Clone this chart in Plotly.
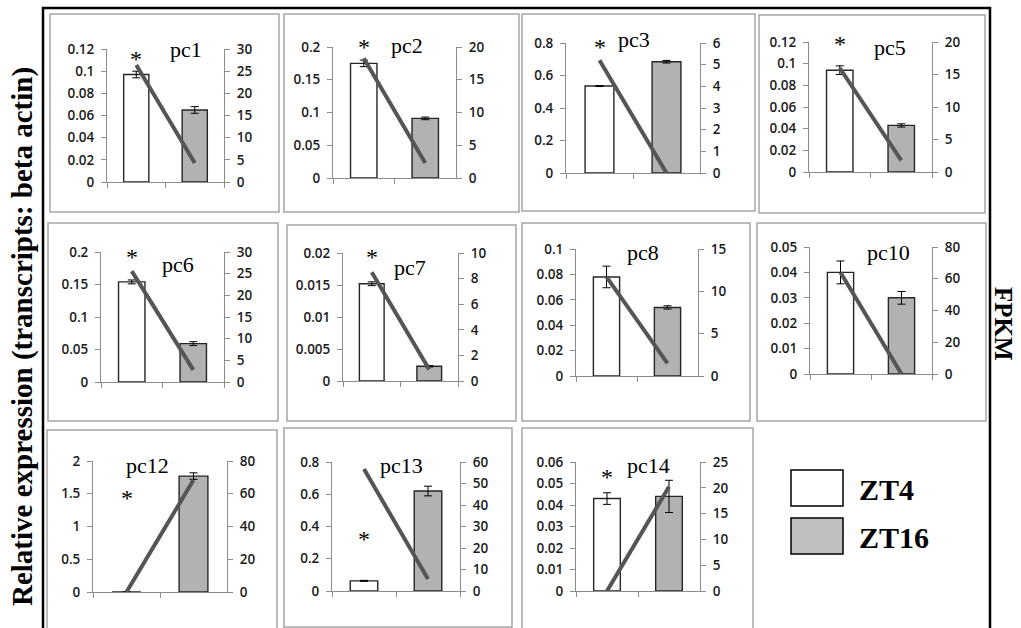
import plotly.graph_objects as go

# ---------------- data ----------------
genes = ['pc1', 'pc2', 'pc3', 'pc5', 'pc6', 'pc7', 'pc8', 'pc10', 'pc12', 'pc13', 'pc14']
categories = ['ZT4', 'ZT16']
zt4_expr = [0.097, 0.175, 0.535, 0.094, 0.154, 0.0152, 0.078, 0.040, 0.0, 0.063, 0.043]
zt4_err = [0.003, 0.005, 0.003, 0.004, 0.003, 0.0003, 0.0085, 0.0045, 0.0, 0.003, 0.0027]
zt16_expr = [0.065, 0.091, 0.685, 0.043, 0.059, 0.0023, 0.054, 0.030, 1.77, 0.62, 0.044]
zt16_err = [0.003, 0.002, 0.008, 0.0015, 0.003, 0.0001, 0.0013, 0.0025, 0.05, 0.03, 0.0075]
fpkm_zt4 = [26.4, 18.3, 5.2, 16.0, 25.6, 8.5, 11.7, 64, 0, 56.7, 0]
fpkm_zt16 = [4.3, 2.3, 0, 1.8, 2.8, 0.9, 1.5, 0, 68.4, 5.6, 20.2]
left_max = [0.12, 0.2, 0.8, 0.12, 0.2, 0.02, 0.1, 0.05, 2, 0.8, 0.06]
left_step = [0.02, 0.05, 0.2, 0.02, 0.05, 0.005, 0.02, 0.01, 0.5, 0.2, 0.01]
right_max = [30, 20, 6, 20, 30, 10, 15, 80, 80, 60, 25]
right_step = [5, 5, 1, 5, 5, 2, 5, 20, 20, 10, 5]
# asterisk (significance) marks, in left-axis units, None = no mark
star_y = [0.1146, 0.206, 0.8, 0.122, 0.198, 0.02, None, None, 1.5, 0.35, 0.0549]

# ---------------- layout geometry (pixels) ----------------
W, H = 1021, 628
plot_px = [
    (107, 224, 49, 182), (333, 456, 47, 178), (566, 700, 43, 173), (809, 932, 42, 172),
    (101, 224, 252, 382), (343, 458, 253, 381), (576, 698, 249, 376), (810, 932, 247, 374),
    (93, 227, 461, 592), (332, 460, 462, 591), (576, 700, 462, 591),
]
box_px = [
    (50, 279, 14, 212), (284, 519, 14, 212), (522, 755, 14, 211), (759, 985, 15, 213),
    (48, 278, 223, 421), (287, 516, 225, 421), (522, 750, 223, 421), (757, 986, 223, 421),
    (47, 277, 430, 640), (284, 512, 428, 627), (522, 753, 428, 640),
]
title_px = [
    (186, 50), (407, 45), (634, 40), (890, 47),
    (178, 264), (410, 267), (643, 252), (888, 252),
    (147, 466), (401, 466), (648, 466),
]


def fx(p):
    return p / W


def fy(p):
    return 1 - p / H


AXC = '#8c8c8c'
GRAY = '#b2b2b2'
TICKFONT = dict(family='Open Sans', size=13.5, color='#1a1a1a', weight=600)
SERIF = 'Liberation Serif'

fig = go.Figure()
layout = {}
annotations = []
shapes = []

for i, g in enumerate(genes):
    n = i + 1
    xa = 'x' if n == 1 else f'x{n}'
    xkey = 'xaxis' if n == 1 else f'xaxis{n}'
    li, ri = 2 * i + 1, 2 * i + 2
    yl = 'y' if li == 1 else f'y{li}'
    ylkey = 'yaxis' if li == 1 else f'yaxis{li}'
    yr = f'y{ri}'
    yrkey = f'yaxis{ri}'
    x0, x1, t, b = plot_px[i]

    fig.add_trace(go.Bar(
        x=categories, y=[zt4_expr[i], zt16_expr[i]], xaxis=xa, yaxis=yl,
        marker=dict(color=['white', GRAY], line=dict(color='#262626', width=1.4)),
        error_y=dict(type='data', array=[zt4_err[i], zt16_err[i]], color='black',
                     thickness=1, width=4),
        showlegend=False, hoverinfo='skip'))
    fig.add_trace(go.Scatter(
        x=categories, y=[fpkm_zt4[i], fpkm_zt16[i]], xaxis=xa, yaxis=yr,
        mode='lines', line=dict(color='#555555', width=4),
        showlegend=False, hoverinfo='skip', cliponaxis=False))

    layout[xkey] = dict(
        domain=[fx(x0), fx(x1)], anchor=yl, type='category', range=[-0.5, 1.5],
        showticklabels=False, ticks='outside', tickson='boundaries', ticklen=5,
        tickcolor=AXC, showline=True, linecolor=AXC, linewidth=1, automargin=False,
        showgrid=False, zeroline=False, fixedrange=True)
    layout[ylkey] = dict(
        domain=[fy(b), fy(t)], anchor=xa, range=[0, left_max[i] * 1.0001],
        tick0=0, dtick=left_step[i], ticks='outside', ticklen=5, tickcolor=AXC,
        showline=True, linecolor=AXC, linewidth=1, showgrid=False, zeroline=False,
        tickfont=TICKFONT, ticklabelstandoff=4, fixedrange=True, automargin=False)
    layout[yrkey] = dict(
        overlaying=yl, side='right', anchor=xa, range=[0, right_max[i] * 1.0001],
        tick0=0, dtick=right_step[i], ticks='outside', ticklen=5, tickcolor=AXC,
        showline=True, linecolor=AXC, linewidth=1, showgrid=False, zeroline=False,
        tickfont=TICKFONT, ticklabelstandoff=4, fixedrange=True, automargin=False)

    bx0, bx1, bt, bb = box_px[i]
    shapes.append(dict(type='rect', xref='paper', yref='paper',
                       x0=fx(bx0), x1=fx(bx1), y0=fy(bb), y1=fy(bt),
                       line=dict(color='#a6a6a6', width=1.5), layer='below'))

    tx, ty = title_px[i]
    annotations.append(dict(text=g, x=fx(tx), y=fy(ty), xref='paper', yref='paper',
                            showarrow=False, xanchor='center', yanchor='middle',
                            font=dict(family=SERIF, size=22, color='black')))
    if star_y[i] is not None:
        annotations.append(dict(text='*', x=0, y=star_y[i] / left_max[i],
                                xref=xa, yref=f'{yl} domain',
                                showarrow=False, xanchor='center', yanchor='middle',
                                yshift=-4, font=dict(family=SERIF, size=24, color='black')))

# outer border
shapes.append(dict(type='path', xref='paper', yref='paper',
                   path=f'M {fx(43)} {fy(640)} L {fx(43)} {fy(8)} L {fx(990)} {fy(8)} L {fx(990)} {fy(640)}',
                   line=dict(color='black', width=2.5)))

# legend
shapes.append(dict(type='rect', xref='paper', yref='paper', x0=fx(791), x1=fx(843),
                   y0=fy(506), y1=fy(470), fillcolor='white', line=dict(color='black', width=1.5)))
shapes.append(dict(type='rect', xref='paper', yref='paper', x0=fx(791), x1=fx(843),
                   y0=fy(554), y1=fy(518), fillcolor='#bfbfbf', line=dict(color='black', width=1.5)))
for lab, ly in zip(categories, [489, 537]):
    annotations.append(dict(text=f'<b>{lab}</b>', x=fx(857), y=fy(ly), xref='paper', yref='paper',
                            showarrow=False, xanchor='left', yanchor='middle',
                            font=dict(family=SERIF, size=30, color='black')))

# axis titles
annotations.append(dict(text='<b>Relative expression (transcripts: beta actin)</b>',
                        x=fx(22), y=fy(337), xref='paper', yref='paper', showarrow=False,
                        textangle=-90, xanchor='center', yanchor='middle',
                        font=dict(family=SERIF, size=29, color='black')))
annotations.append(dict(text='<b>FPKM</b>', x=fx(1004), y=fy(324), xref='paper', yref='paper',
                        showarrow=False, textangle=90, xanchor='center', yanchor='middle',
                        font=dict(family=SERIF, size=25, color='black')))

fig.update_layout(
    width=W, height=H, margin=dict(l=0, r=0, t=0, b=0, pad=0, autoexpand=False),
    paper_bgcolor='white', plot_bgcolor='rgba(0,0,0,0)',
    bargap=0.57, shapes=shapes, annotations=annotations, **layout)

fig.write_html('out.html', config={'displayModeBar': False},
               post_script="document.body.style.margin='0px';document.body.style.overflow='hidden';")
